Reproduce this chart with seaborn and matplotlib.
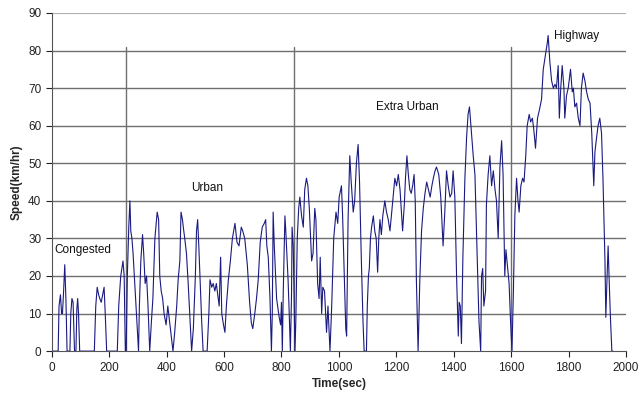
import numpy as np
import pandas as pd
import seaborn as sns
import matplotlib
matplotlib.use("Agg")
import matplotlib.pyplot as plt

sns.set_style("white")
plt.rcParams['font.family'] = ['Liberation Sans', 'DejaVu Sans']

# -----------------------------
# DATA: drive cycle (time in sec, speed in km/hr)
# -----------------------------
time_sec = [
    0, 22, 25, 30, 34, 37, 41, 45, 49, 53,
    63, 66, 70, 74, 79, 84, 87, 90, 93, 97,
    148, 153, 158, 163, 167, 172, 177, 182, 186, 191,
    228, 233, 240, 248, 252, 256,
    259, 263, 268, 272, 275, 279, 283, 289, 294, 299, 302,
    305, 310, 316, 320, 325, 330, 335, 341,
    347, 352, 359, 367, 372, 376, 381, 386, 391, 398, 404, 410, 416, 422,
    428, 435, 440, 446, 450, 455, 458, 463, 469, 475, 481, 487,
    493, 500, 504, 508, 512, 516, 522, 527,
    541, 547, 551, 557, 562, 568, 573, 578, 583, 588, 592, 598, 603,
    608, 615, 622, 629, 638, 645, 652, 660, 665, 672, 681, 689, 695,
    700, 707, 713, 719, 726, 733, 740, 745, 749, 754, 760, 765,
    768, 771, 775, 783, 792, 797, 800, 803,
    806, 812, 815, 823, 827, 831, 835, 837, 841, 847,
    850, 855, 860, 864, 870, 876, 881, 887, 892, 897, 905, 910, 916, 920,
    926, 931, 935, 940, 944, 950, 957, 962, 969,
    975, 982, 990, 996, 1001, 1009, 1013, 1018, 1024, 1027, 1032, 1038,
    1043, 1050, 1055, 1061, 1067, 1072, 1078, 1084, 1088,
    1096, 1099, 1103, 1106, 1110, 1114, 1120, 1125, 1130, 1135, 1139, 1143,
    1148, 1153, 1160, 1166, 1172, 1178, 1184, 1189, 1195, 1201, 1207, 1213,
    1218, 1222, 1228, 1232, 1237, 1242, 1247, 1252, 1257, 1262, 1266, 1270, 1276,
    1282, 1288, 1294, 1300, 1306, 1312, 1318, 1324, 1329, 1335, 1340, 1348,
    1355, 1363, 1369, 1375, 1381, 1387, 1393, 1398, 1404, 1410, 1416, 1419,
    1423, 1427, 1432, 1439, 1445, 1450, 1455, 1460, 1468, 1474, 1482, 1488, 1494,
    1497, 1501, 1505, 1511, 1514, 1520, 1526, 1532, 1538, 1544, 1549, 1555,
    1561, 1567, 1572, 1578, 1582, 1587, 1593, 1598, 1603,
    1608, 1613, 1619, 1624, 1628, 1634, 1640, 1645, 1651, 1656, 1663, 1668,
    1674, 1679, 1685, 1692, 1698, 1706, 1712, 1718, 1726, 1729, 1735, 1741,
    1747, 1753, 1758, 1764, 1768, 1773, 1778, 1784, 1787, 1793, 1799, 1807,
    1813, 1817, 1822, 1828, 1834, 1840, 1845, 1851, 1857, 1863, 1869, 1875,
    1881, 1886, 1888, 1892, 1898, 1903, 1909, 1915, 1920, 1927, 1930, 1934,
    1938, 1942, 1946, 1951, 1955,
]

speed_kmh = [
    0, 0, 12, 15, 10, 10, 16, 23, 14, 0,
    0, 10, 14, 13, 0, 0, 11, 14, 10, 0,
    0, 12, 17, 15, 14, 13, 15, 17, 10, 0,
    0, 12, 20, 24, 20, 0,
    0, 20, 33, 40, 32, 30, 26, 18, 11, 4, 0,
    12, 24, 31, 26, 18, 20, 12, 0,
    8, 14, 30, 37, 35, 20, 16, 14, 10, 7, 12, 8, 4, 0,
    5, 12, 19, 24, 37, 35, 33, 30, 26, 18, 9, 0,
    6, 20, 32, 35, 28, 20, 8, 0,
    0, 10, 19, 17, 18, 16, 18, 15, 12, 25, 10, 7, 5,
    12, 19, 24, 30, 34, 29, 28, 33, 32, 30, 23, 13, 7.5,
    6, 10, 14, 19, 29, 33, 34, 35, 28, 25, 14, 0,
    10, 37, 28, 14, 9, 7, 13, 0,
    15, 36, 32, 19, 10, 0, 15, 33, 28, 0,
    8, 30, 38, 41, 36, 33, 43, 46, 44, 38, 24, 26, 38, 35,
    18, 14, 25, 10, 17, 16, 5, 12, 0,
    12, 30, 37, 34, 41, 44, 36, 22, 6, 4, 35, 52,
    45, 37, 40, 50, 55, 45, 25, 8, 0,
    0, 12, 20, 22, 30, 33, 36, 32, 30, 21, 30, 35,
    31, 36, 40, 37, 35, 32, 37, 41, 46, 44, 47, 43,
    37, 32, 39, 46, 52, 47, 43, 42, 44, 47, 40, 19, 0,
    19, 32, 38, 42, 45, 43, 41, 44, 46, 48, 49, 47,
    41, 28, 37, 48, 44, 41, 42, 48, 41, 20, 4, 13,
    12, 2, 25, 46, 57, 63, 65, 60, 52, 47, 25, 8, 0,
    20, 22, 12, 16, 39, 47, 52, 44, 48, 43, 40, 30,
    49, 56, 47, 20, 27, 23, 18, 8, 0,
    16, 36, 46, 40, 37, 44, 46, 45, 52, 60, 63, 61,
    62, 59, 54, 62, 64, 67, 75, 78, 82, 84, 77, 72,
    70, 71, 70, 76, 62, 70, 76, 70, 62, 68, 70, 75,
    69, 70, 65, 66, 62, 60, 70, 74, 72, 69, 67, 66,
    58, 48, 44, 53, 57, 60, 62, 58, 46, 24, 9, 19,
    28, 18, 9, 0, 0,
]

# phase separators and labels
phase_bounds = [258, 843, 1599]
phase_names = ["Congested", "Urban", "Extra Urban", "Highway"]
label_x = [8, 540, 1237, 1829]
label_y = [27, 43.5, 65, 84]

df = pd.DataFrame({"Time": time_sec, "Speed": speed_kmh})

# -----------------------------
# PLOT
# -----------------------------
fig = plt.figure(figsize=(6.4, 4.05), dpi=100)
ax = fig.add_axes([0.081, 0.133, 0.897, 0.835])

for yv in range(10, 81, 10):
    ax.axhline(yv, color="#6f6f6f", lw=1.0, zorder=1)
ax.axhline(90, color="#b0b0b0", lw=0.8, zorder=1)

for xb in phase_bounds:
    ax.plot([xb, xb], [0, 81], color="#6f6f6f", lw=1.0, zorder=1)

sns.lineplot(data=df, x="Time", y="Speed", ax=ax, color="#1a1a80",
             lw=0.8, zorder=3)

for name, xl, yl in zip(phase_names, label_x, label_y):
    ha = "left" if name == "Congested" else "center"
    ax.text(xl, yl, name, fontsize=8.5, ha=ha, va="center", color="#111111")

ax.set_xlim(0, 2000)
ax.set_ylim(0, 90)
ax.set_xticks(range(0, 2001, 200))
ax.set_yticks(range(0, 91, 10))
ax.tick_params(axis="both", labelsize=8.5, colors="#222222", direction="out",
               length=4, width=0.8, left=True, bottom=True)
ax.set_xlabel("Time(sec)", fontsize=8.5, fontweight="bold", labelpad=3)
ax.set_ylabel("Speed(km/hr)", fontsize=8.5, fontweight="bold", labelpad=4)

for side in ["top", "right"]:
    ax.spines[side].set_visible(False)
for side in ["left", "bottom"]:
    ax.spines[side].set_color("#555555")
    ax.spines[side].set_linewidth(0.8)

fig.savefig("out.png", dpi=100)
